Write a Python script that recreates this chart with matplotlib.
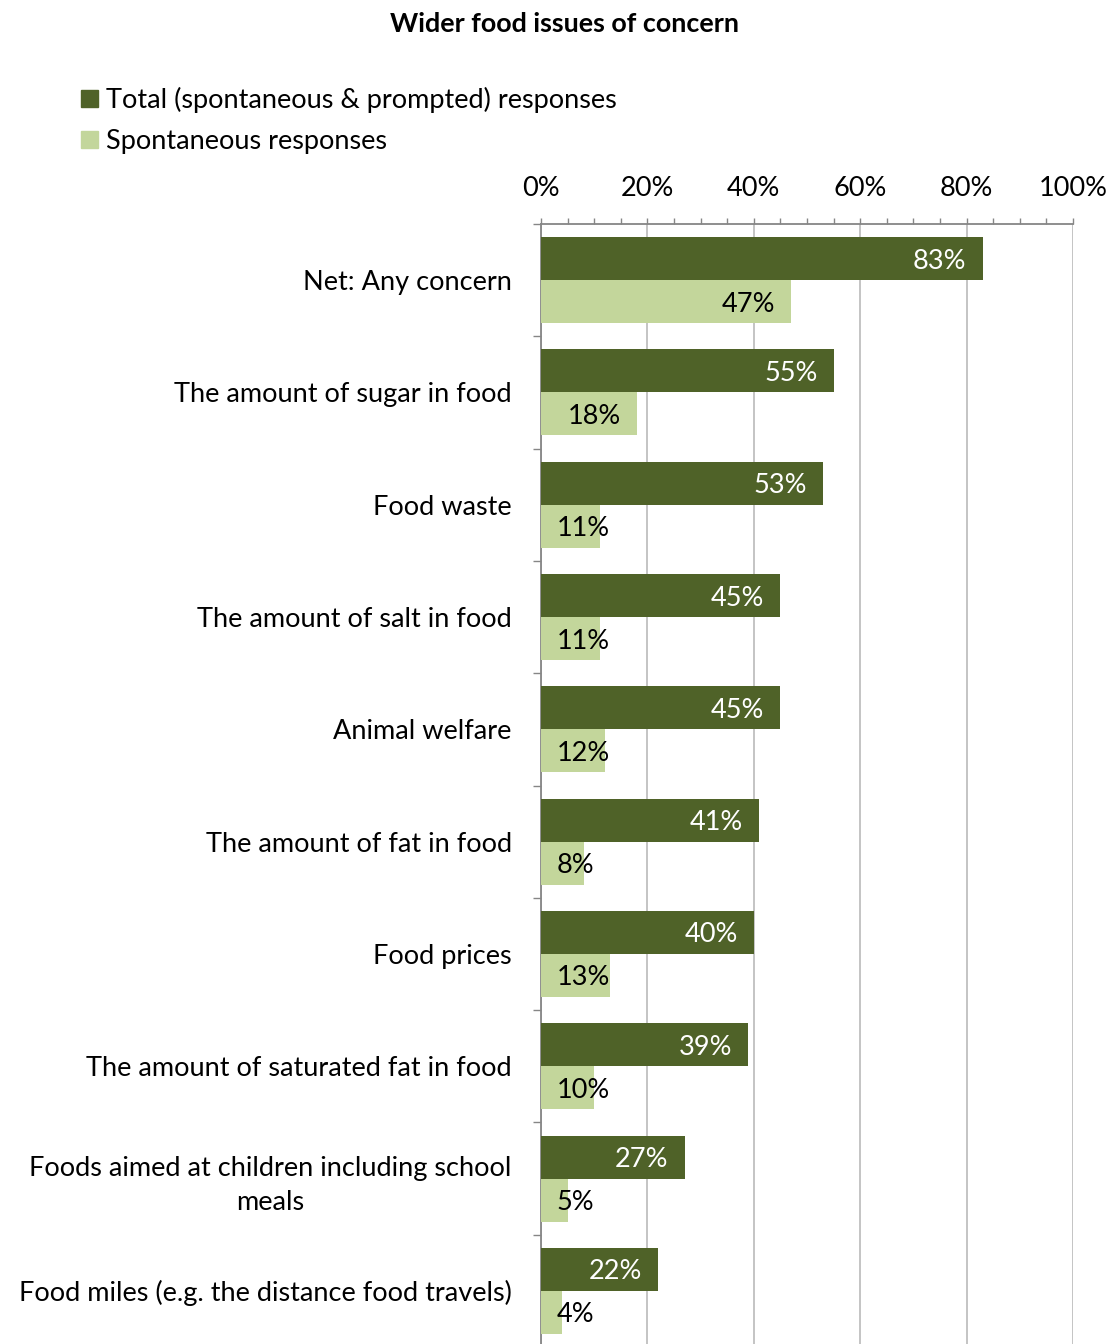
import matplotlib
matplotlib.use("Agg")
import matplotlib.pyplot as plt
from matplotlib.patches import Patch
import numpy as np

categories = [
    "Net: Any concern",
    "The amount of sugar in food",
    "Food waste",
    "The amount of salt in food",
    "Animal welfare",
    "The amount of fat in food",
    "Food prices",
    "The amount of saturated fat in food",
    "Foods aimed at children including school\nmeals",
    "Food miles (e.g. the distance food travels)",
]
total = [83, 55, 53, 45, 45, 41, 40, 39, 27, 22]
spontaneous = [47, 18, 11, 11, 12, 8, 13, 10, 5, 4]
series_names = ["Total (spontaneous & prompted) responses", "Spontaneous responses"]
xticks = [0, 20, 40, 60, 80, 100]
title = "Wider food issues of concern"

DARK = "#4F6228"
LIGHT = "#C3D69B"
FONT = "Lato"
FS = 19.5

plt.rcParams["font.family"] = [FONT, "DejaVu Sans"]

W, H = 1110, 1344
fig = plt.figure(figsize=(W / 100, H / 100), dpi=100)
ax = fig.add_axes([541 / W, 1 - 1347 / H, (1073 - 541) / W, (1347 - 224) / H])

n = len(categories)
idx = np.arange(n)
bh = 0.383
ax.barh(idx + 0.5 - bh / 2, total, height=bh, color=DARK, zorder=3)
ax.barh(idx + 0.5 + bh / 2, spontaneous, height=bh, color=LIGHT, zorder=3)

ax.set_xlim(0, 100)
ax.set_ylim(n, 0)

def put_label(v, y, color):
    if v < 16:
        ax.text(3, y, f"{v}%", ha="left", va="center_baseline", color=color, fontsize=FS, zorder=4)
    else:
        ax.text(v - 3.0, y, f"{v}%", ha="right", va="center_baseline", color=color, fontsize=FS, zorder=4)

for i in range(n):
    put_label(total[i], i + 0.5 - bh / 2, "white")
    put_label(spontaneous[i], i + 0.5 + bh / 2, "black")

# x axis on top
ax.xaxis.tick_top()
ax.set_xticks(xticks)
ax.set_xticklabels([f"{t}%" for t in xticks], fontsize=FS)
ax.set_xticks(np.arange(0, 101, 5), minor=True)
ax.tick_params(axis="x", which="both", direction="out", length=4.5, width=1, color="#868686", pad=12)
ax.grid(axis="x", which="major", color="#BFBFBF", linewidth=1.3, zorder=0)

# y axis
ax.set_yticks(np.arange(0, n + 1))
ax.set_yticklabels([])
ax.tick_params(axis="y", which="major", direction="out", length=6, width=1, color="#868686")
ax.set_yticks(idx + 0.5, minor=True)
ax.set_yticklabels(categories, minor=True, fontsize=FS, ha="right", multialignment="center",
                   linespacing=1.45)
ax.tick_params(axis="y", which="minor", length=0, pad=21)

for s in ["right", "bottom"]:
    ax.spines[s].set_visible(False)
for s in ["left", "top"]:
    ax.spines[s].set_color("#868686")
    ax.spines[s].set_linewidth(1.3)

fig.text(565 / W, 1 - 24 / H, title, ha="center", va="center", fontsize=19.4, fontweight="bold")

handles = [Patch(color=DARK), Patch(color=LIGHT)]
fig.legend(handles, series_names, loc="upper left", bbox_to_anchor=(70 / W, 1 - 76 / H),
           frameon=False, fontsize=FS, handlelength=0.62, handleheight=0.62,
           handletextpad=0.3, labelspacing=0.6, borderaxespad=0)

fig.savefig("out.png", dpi=100)
